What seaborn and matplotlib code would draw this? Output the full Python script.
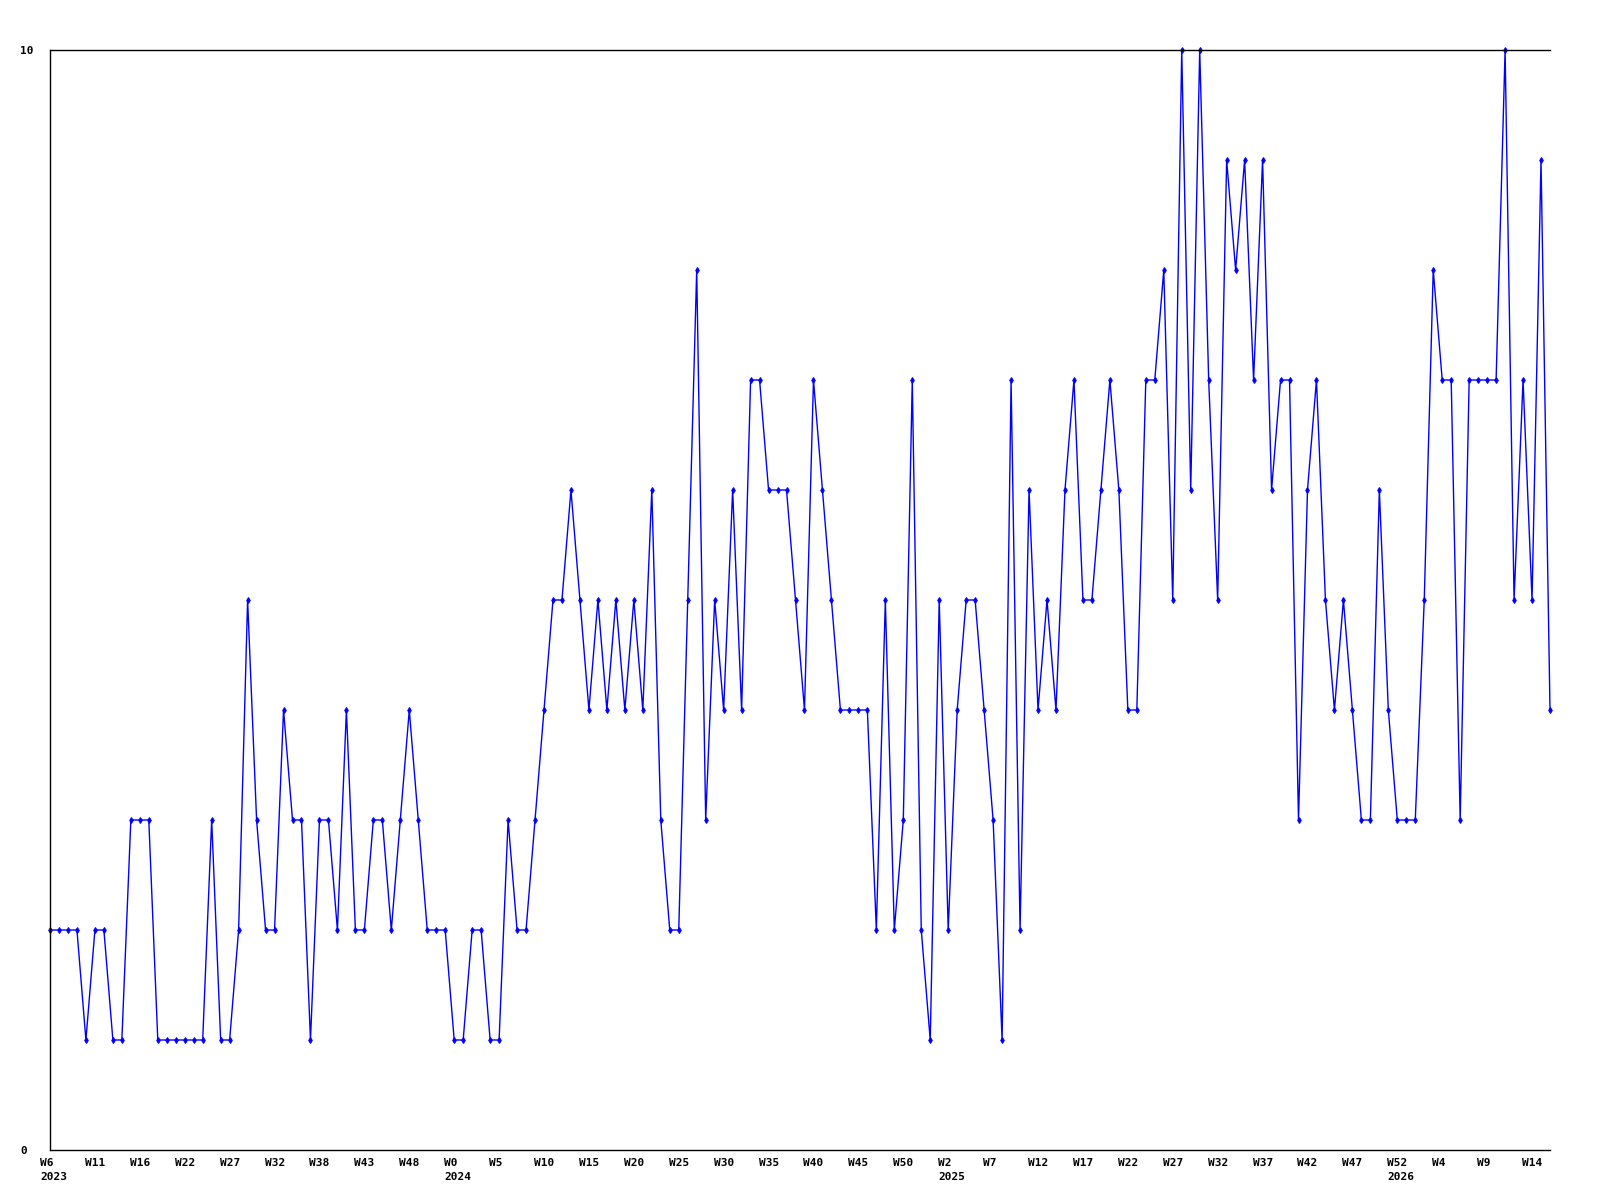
import pandas as pd
import matplotlib.pyplot as plt
import matplotlib.transforms as mtransforms
import seaborn as sns

# Weekly values, from 2023 W6 onwards
values = [
    2, 2, 2, 2, 1, 2, 2, 1, 1, 3, 3, 3, 1, 1, 1, 1, 1, 1, 3, 1,
    1, 2, 5, 3, 2, 2, 4, 3, 3, 1, 3, 3, 2, 4, 2, 2, 3, 3, 2, 3,
    4, 3, 2, 2, 2, 1, 1, 2, 2, 1, 1, 3, 2, 2, 3, 4, 5, 5, 6, 5,
    4, 5, 4, 5, 4, 5, 4, 6, 3, 2, 2, 5, 8, 3, 5, 4, 6, 4, 7, 7,
    6, 6, 6, 5, 4, 7, 6, 5, 4, 4, 4, 4, 2, 5, 2, 3, 7, 2, 1, 5,
    2, 4, 5, 5, 4, 3, 1, 7, 2, 6, 4, 5, 4, 6, 7, 5, 5, 6, 7, 6,
    4, 4, 7, 7, 8, 5, 10, 6, 10, 7, 5, 9, 8, 9, 7, 9, 6, 7, 7, 3,
    6, 7, 5, 4, 5, 4, 3, 3, 6, 4, 3, 3, 3, 5, 8, 7, 7, 3, 7, 7,
    7, 7, 10, 5, 7, 5, 9, 4,
]

# x-axis labels, one every 5 points
week_labels = [
    "W6", "W11", "W16", "W22", "W27", "W32", "W38", "W43", "W48", "W0",
    "W5", "W10", "W15", "W20", "W25", "W30", "W35", "W40", "W45", "W50",
    "W2", "W7", "W12", "W17", "W22", "W27", "W32", "W37", "W42", "W47",
    "W52", "W4", "W9", "W14",
]
# year shown under the label at these label positions
year_labels = {0: "2023", 9: "2024", 20: "2025", 30: "2026"}

df = pd.DataFrame({"idx": range(len(values)), "count": values})

sns.set_style("white")
plt.rcParams["font.family"] = ["DejaVu Sans Mono"]

fig = plt.figure(figsize=(16, 12), dpi=100)
ax = fig.add_axes([50 / 1600, 50 / 1200, 1500 / 1600, 1100 / 1200])

sns.lineplot(data=df, x="idx", y="count", ax=ax, color="#0000ff",
             linewidth=1.0, marker="d", markersize=3,
             markeredgecolor="#0000ff", markerfacecolor="#0000ff", clip_on=False)

ax.set_xlim(0, len(values) - 1)
ax.set_ylim(0, 10)
ax.set_xlabel("")
ax.set_ylabel("")

# y ticks: only 0 and 10
ax.set_yticks([0, 10])
ax.set_yticklabels(["0", "10"], fontsize=8, fontweight="bold", color="black")
ax.tick_params(axis="y", length=0, pad=21.6)
for lbl in ax.get_yticklabels():
    lbl.set_horizontalalignment("left")

# x ticks with the year under the first label of each year
ticks = list(range(0, len(values), 5))[:len(week_labels)]
labels = [w + ("\n" + year_labels[i] if i in year_labels else "")
          for i, w in enumerate(week_labels)]
ax.set_xticks(ticks)
ax.set_xticklabels(labels, fontsize=8, fontweight="bold", linespacing=1.5, color="black")
ax.tick_params(axis="x", length=0, pad=6)
shift = mtransforms.ScaledTranslation(-10 / 100, 0, fig.dpi_scale_trans)
for lbl in ax.get_xticklabels():
    lbl.set_horizontalalignment("left")
    lbl.set_multialignment("left")
    lbl.set_verticalalignment("top")
    lbl.set_transform(lbl.get_transform() + shift)

for side in ["top", "left", "bottom"]:
    ax.spines[side].set_visible(True)
    ax.spines[side].set_color("black")
    ax.spines[side].set_linewidth(1.0)
ax.spines["right"].set_visible(False)
ax.grid(False)

fig.savefig("out.png", dpi=100)
